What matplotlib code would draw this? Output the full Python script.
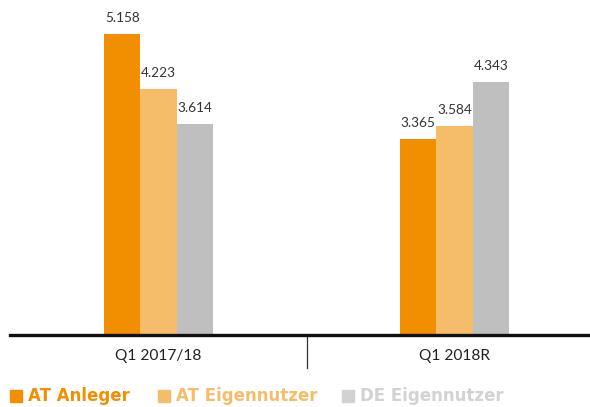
import matplotlib
matplotlib.use("Agg")
import matplotlib.pyplot as plt
from matplotlib.patches import Rectangle
import numpy as np

categories = ["Q1 2017/18", "Q1 2018R"]
series_names = ["AT Anleger", "AT Eigennutzer", "DE Eigennutzer"]
at_anleger = [5.158, 3.365]
at_eigennutzer = [4.223, 3.584]
de_eigennutzer = [3.614, 4.343]

bar_colors = ["#F18F00", "#F5BD6A", "#BFBFBF"]
legend_colors = ["#F18F00", "#F5BD6A", "#D2D2D2"]

W, H = 590, 407
fig = plt.figure(figsize=(W / 100, H / 100), dpi=100)
ax = fig.add_axes([10 / W, 1 - 335 / H, 580 / W, 335 / H])

font = "Lato"
x = np.arange(len(categories))
bw = 0.123
series = [at_anleger, at_eigennutzer, de_eigennutzer]
for i, (vals, col) in enumerate(zip(series, bar_colors)):
    pos = x + (i - 1) * bw
    ax.bar(pos, vals, width=bw, color=col, edgecolor="none", zorder=2)
    for p, v in zip(pos, vals):
        ax.text(p, v + 0.17, f"{v:.3f}", ha="center", va="bottom",
                fontsize=9.8, color="#333333", family=font)

ax.set_xlim(-0.502, 1.458)
ax.set_ylim(0, 5.74)
for s in ["top", "right", "left"]:
    ax.spines[s].set_visible(False)
ax.spines["bottom"].set_linewidth(2.4)
ax.spines["bottom"].set_color("#111111")
ax.set_yticks([])
ax.set_xticks(x)
ax.set_xticklabels(categories, fontsize=11.2, color="#222222", family=font)
ax.tick_params(axis="x", length=0, pad=10)
# separator between groups
ax.plot([0.5, 0.5], [0, -0.56], color="#333333", lw=0.9, clip_on=False)

# legend
leg_x = [10, 158, 342]
for lx, name, col in zip(leg_x, series_names, legend_colors):
    fig.patches.append(Rectangle((lx / W, 1 - 402 / H), 12 / W, 12 / H,
                                 transform=fig.transFigure, color=col))
    fig.text((lx + 18) / W, 1 - 396 / H, name, ha="left", va="center",
             fontsize=12, fontweight="semibold", color=col, family="DejaVu Sans")

fig.savefig("out.png", dpi=100)
